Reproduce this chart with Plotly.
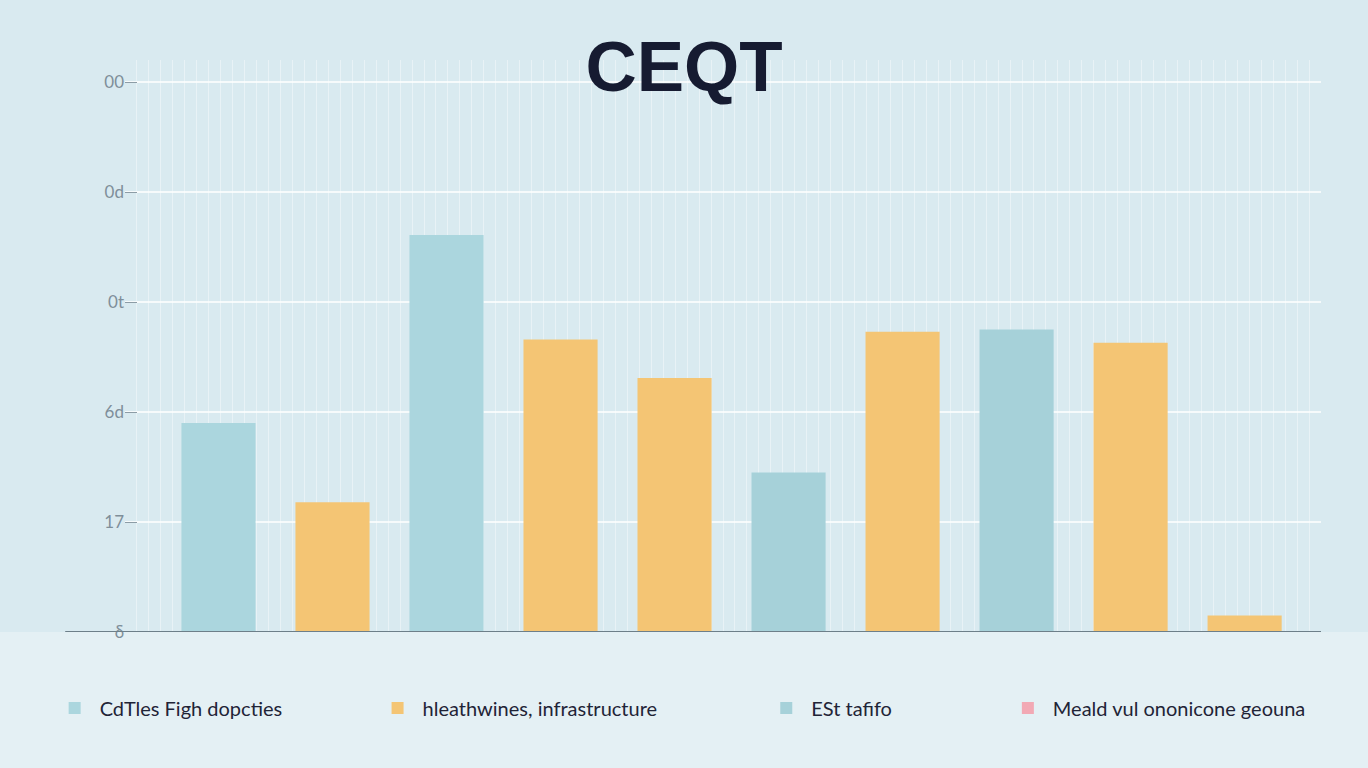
import plotly.graph_objects as go

# ---- data ----
positions = [0, 1, 2, 3, 4, 5, 6, 7, 8, 9]
series_names = ["CdTles Figh dopcties", "hleathwines, infrastructure", "ESt tafifo", "Meald vul ononicone geouna"]
s1_vals = [1.90, None, 3.61, None, None, None, None, None, None, None]
s2_vals = [None, 1.18, None, 2.66, 2.31, None, 2.73, None, 2.63, 0.15]
s3_vals = [None, None, None, None, None, 1.45, None, 2.75, None, None]
s4_vals = [None, None, None, None, None, None, None, None, None, None]
y_tickvals = [0, 1, 2, 3, 4, 5]
y_ticktext = ["δ", "17", "6d", "0t", "0d", "00"]
title_text = "CEQT"

colors = ["#abd6de", "#f4c574", "#a6d1d9", "#f2a9b4"]
legends = ["legend", "legend2", "legend3", "legend4"]
all_vals = [s1_vals, s2_vals, s3_vals, s4_vals]

fig = go.Figure()
for name, vals, col, lg in zip(series_names, all_vals, colors, legends):
    fig.add_trace(go.Bar(
        x=positions, y=vals, name=name, legend=lg,
        marker=dict(color=col, line=dict(width=0)),
        width=0.65, showlegend=True,
    ))

# fine vertical stripes on a helper axis (style only)
fig.add_trace(go.Scatter(x=[0, 100], y=[0, 0], xaxis="x2", mode="lines",
                         line=dict(width=0), showlegend=False, hoverinfo="skip"))

leg_common = dict(orientation="h", yanchor="middle", y=-0.133, xanchor="left",
                  bgcolor="rgba(0,0,0,0)", font=dict(family="Lato", size=20, color="#1f2437"),
                  itemwidth=40)
lefts = [-0.063, 0.207, 0.532, 0.734]
layout_legends = {}
for lg, lx in zip(legends, lefts):
    d = dict(leg_common)
    d["x"] = lx
    layout_legends[lg] = d

fig.update_layout(
    width=1368, height=768,
    margin=dict(l=125, r=47, t=60, b=136),
    paper_bgcolor="#d9eaf0",
    plot_bgcolor="#d9eaf0",
    barmode="overlay",
    title=dict(text="<b>" + title_text + "</b>", x=0.5, xanchor="center", y=0.914, yanchor="middle",
               font=dict(family="Liberation Sans", size=71, color="#161b31")),
    xaxis=dict(range=[-0.82, 9.67], showticklabels=False, showgrid=False, zeroline=False,
               showline=False, ticks=""),
    xaxis2=dict(range=[0, 100], overlaying="x", showticklabels=False, showgrid=True,
                gridcolor="rgba(255,255,255,0.4)", gridwidth=1, dtick=1, zeroline=False),
    yaxis=dict(range=[0, 5.2], tickvals=y_tickvals, ticktext=y_ticktext, showgrid=True,
               gridcolor="rgba(255,255,255,0.75)", gridwidth=2, zeroline=False,
               ticks="inside", ticklen=12, tickcolor="#8c9ca6", tickwidth=1,
               tickfont=dict(family="Lato", size=17, color="#7f8f9a"), showline=False),
    **layout_legends,
)

# floor below baseline and baseline line
fig.add_shape(type="rect", xref="paper", yref="paper", x0=-0.2, x1=1.1, y0=-0.3, y1=0,
              fillcolor="#e4f0f4", line=dict(width=0), layer="below")
fig.add_shape(type="line", xref="paper", yref="y", x0=-0.05, x1=1.0, y0=0, y1=0,
              line=dict(color="#6d7f89", width=2))

fig.write_html("out.html", config={"displayModeBar": False},
               post_script="document.body.style.margin='0';document.body.style.background='#d9eaf0';")
